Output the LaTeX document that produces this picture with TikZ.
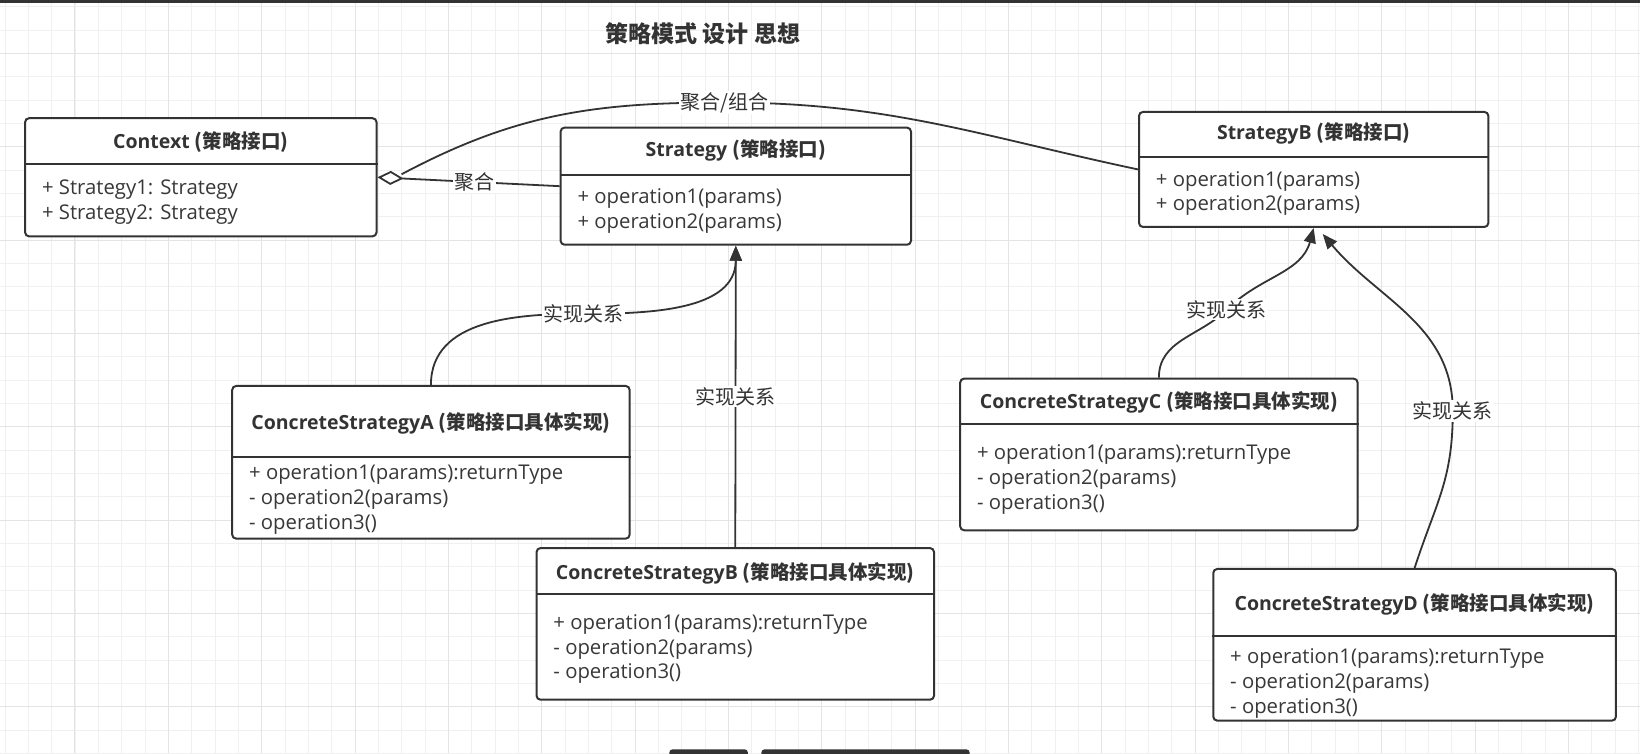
\documentclass[tikz,border=0pt]{standalone}
\usepackage{fontspec}
\setmainfont{Open Sans}
\newfontfamily\cjk{Noto Sans CJK SC}
\usetikzlibrary{arrows.meta,positioning}
\definecolor{umlline}{HTML}{333333}
\definecolor{umltext}{HTML}{383838}
\definecolor{gridminor}{HTML}{F0F0F0}
\definecolor{gridmajor}{HTML}{E4E4E4}
\newcommand\pxu{1.0459}

\begin{document}
\begin{tikzpicture}[x=1.0459pt,y=-1.0459pt]
\tikzstyle{every node}+=[inner sep=0pt]
\tikzstyle{classbox}=[draw=umlline,line width=2pt,fill=white,rounded corners=4pt]
\tikzstyle{classhead}=[text=umlline,font=\fontsize{19.5}{23}\selectfont\bfseries]
\tikzstyle{classbody}=[text=umltext,anchor=west,align=left,font=\fontsize{20.3}{24.8}\selectfont]
\tikzstyle{divider}=[draw=umlline,line width=2pt]
\tikzstyle{rel}=[draw=umlline,line width=1.8pt]
\tikzstyle{impl}=[rel,-{Triangle[length=15pt,width=12pt]}]
\tikzstyle{agg}=[rel,{Diamond[open,length=26pt,width=14pt]}-]
\tikzstyle{rellabel}=[fill=white,text=umlline,inner sep=1.5pt,font=\cjk\fontsize{20}{23}\selectfont]
\useasboundingbox (0,0) rectangle (1568,720);
\fill[white] (0,0) rectangle (1568,720);
\foreach \i in {0,...,70} \draw[gridminor,line width=1pt] (4.8+22.31*\i,0) -- (4.8+22.31*\i,720);
\foreach \i in {0,...,32} \draw[gridminor,line width=1pt] (0,6.4+22.31*\i) -- (1568,6.4+22.31*\i);
\foreach \i in {0,...,17} \draw[gridmajor,line width=1pt] (71.7+89.24*\i,0) -- (71.7+89.24*\i,720);
\foreach \i in {0,...,7} \draw[gridmajor,line width=1pt] (0,51+89.24*\i) -- (1568,51+89.24*\i);
\fill[umlline] (0,0) rectangle (1568,2.5);
\fill[umlline,rounded corners=3pt] (640,716.5) rectangle (715,726);
\fill[umlline,rounded corners=3pt] (728,716.5) rectangle (927,726);
\node[text=umlline,font=\cjk\fontsize{23}{27}\selectfont\bfseries] (title) at (672,32) {策略模式 设计 思想};
\node[classbox,minimum width=336*\pxu,minimum height=113*\pxu] (ctx) at (192,169.5) {};
\draw[divider] (ctx.west |- 0,157) -- (ctx.east |- 0,157);
\node[classhead] (ctxhead) at (192,136) {Context {\cjk (策略接口)}};
\node[classbody] (ctxbody) at (40,193.5) {+ Strategy1: Strategy\\+ Strategy2: Strategy};
\node[classbox,minimum width=335*\pxu,minimum height=112*\pxu] (strat) at (703.5,178) {};
\draw[divider] (strat.west |- 0,167) -- (strat.east |- 0,167);
\node[classhead] (strathead) at (703.5,144) {Strategy {\cjk (策略接口)}};
\node[classbody] (stratbody) at (552,202) {+ operation1(params)\\+ operation2(params)};
\node[classbox,minimum width=334*\pxu,minimum height=110*\pxu] (sb) at (1256,162) {};
\draw[divider] (sb.west |- 0,150) -- (sb.east |- 0,150);
\node[classhead] (sbhead) at (1256,128) {StrategyB {\cjk (策略接口)}};
\node[classbody] (sbbody) at (1105,185) {+ operation1(params)\\+ operation2(params)};
\node[classbox,minimum width=380*\pxu,minimum height=146*\pxu] (csa) at (412,442) {};
\draw[divider] (csa.west |- 0,437) -- (csa.east |- 0,437);
\node[classhead] (csahead) at (412,405) {ConcreteStrategyA {\cjk (策略接口具体实现)}};
\node[classbody] (csabody) at (238,477.5) {+ operation1(params):returnType\\- operation2(params)\\- operation3()};
\node[classbox,minimum width=380*\pxu,minimum height=145*\pxu] (csb) at (703,596.5) {};
\draw[divider] (csb.west |- 0,568) -- (csb.east |- 0,568);
\node[classhead] (csbhead) at (703,548) {ConcreteStrategyB {\cjk (策略接口具体实现)}};
\node[classbody] (csbbody) at (529,620.5) {+ operation1(params):returnType\\- operation2(params)\\- operation3()};
\node[classbox,minimum width=380*\pxu,minimum height=145*\pxu] (csc) at (1108,434.5) {};
\draw[divider] (csc.west |- 0,405) -- (csc.east |- 0,405);
\node[classhead] (cschead) at (1108,385) {ConcreteStrategyC {\cjk (策略接口具体实现)}};
\node[classbody] (cscbody) at (934,458.5) {+ operation1(params):returnType\\- operation2(params)\\- operation3()};
\node[classbox,minimum width=385*\pxu,minimum height=145*\pxu] (csd) at (1352.5,616.5) {};
\draw[divider] (csd.west |- 0,608) -- (csd.east |- 0,608);
\node[classhead] (csdhead) at (1352.5,578) {ConcreteStrategyD {\cjk (策略接口具体实现)}};
\node[classbody] (csdbody) at (1176,653.5) {+ operation1(params):returnType\\- operation2(params)\\- operation3()};
\coordinate (aggback) at ([xshift=24pt,yshift=3pt]ctx.east);
\coordinate (aggtop) at (693,98);
\coordinate (implA) at (558,300);
\coordinate (implC) at (1173,296);
\coordinate (implD) at (1389,393);
\coordinate (dtip) at ([xshift=9pt,yshift=-6pt]sb.south);
\draw[agg] (ctx.east) -- node[rellabel,pos=0.53] (agglow) {聚合} (strat.west);
\draw[rel] (aggback) to[out=28,in=180] (aggtop) to[out=0,in=168] (sb.west);
\node[rellabel] (aggup) at (aggtop) {聚合/组合};
\draw[impl] (csa.north) to[out=90,in=180] (implA) to[out=0,in=-90] (strat.south);
\node[rellabel] (labA) at (implA) {实现关系};
\draw[impl] (csb.north) -- node[rellabel] (labB) {实现关系} (strat.south);
\draw[impl] (csc.north) to[out=90,in=225] (implC) to[out=45,in=-105] (sb.south);
\node[rellabel] (labC) at (implC) {实现关系};
\draw[impl] (csd.north) to[out=72,in=-90,looseness=1.1] (implD) to[out=90,in=-50] (dtip);
\node[rellabel] (labD) at (implD) {实现关系};
\end{tikzpicture}
\end{document}
